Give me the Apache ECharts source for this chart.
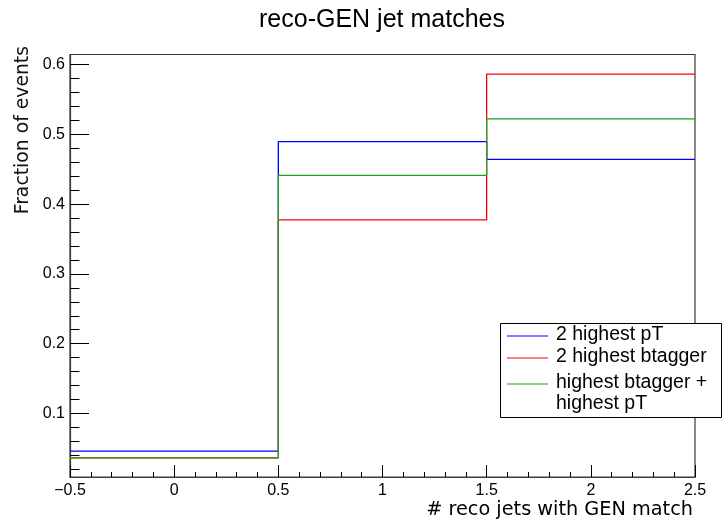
<!DOCTYPE html>
<html>
<head>
<meta charset="utf-8">
<script src="https://cdn.jsdelivr.net/npm/echarts@6/dist/echarts.min.js"></script>
<style>
  html, body { margin: 0; padding: 0; background: #fff; }
  #chart { width: 723px; height: 527px; }
</style>
</head>
<body>
<div id="chart"></div>
<script>
// Histogram bin edges (# reco jets with GEN match)
const binEdges = [-0.5, 0.5, 1.5, 2.5];

// Fraction of events per bin, one array per selection
const seriesNames = ['2 highest pT', '2 highest btagger', 'highest btagger +\nhighest pT'];
const fracHighestPt = [0.0458, 0.4897, 0.4643];
const fracHighestBtag = [0.0362, 0.3775, 0.5866];
const fracBtagPlusPt = [0.0362, 0.4413, 0.5223];
const seriesColors = ['#0000ff', '#ff0000', '#1fa01f'];

// Axis ticks
const yMajorTicks = [0.1, 0.2, 0.3, 0.4, 0.5, 0.6];
const yMinorTicks = [0.02, 0.04, 0.06, 0.08, 0.12, 0.14, 0.16, 0.18, 0.22, 0.24, 0.26, 0.28,
                     0.32, 0.34, 0.36, 0.38, 0.42, 0.44, 0.46, 0.48, 0.52, 0.54, 0.56, 0.58];
const yRange = [0.0088, 0.6146];

// Step-line points: each bin value starts at its lower edge, the last one is carried to the upper edge
function stepPoints(values) {
  const pts = values.map((v, i) => [binEdges[i], v]);
  pts.push([binEdges[binEdges.length - 1], values[values.length - 1]]);
  return pts;
}

const allValues = [fracHighestPt, fracHighestBtag, fracBtagPlusPt];

const chart = echarts.init(document.getElementById('chart'), null, { renderer: 'canvas' });

const frameColor = '#3a3a3a';
const labelFont = 'Liberation Sans, Arial, sans-serif';
const titleFont = 'DejaVu Sans, Verdana, sans-serif';

// Legend box drawn from the series names and colours
const legendBox = { x: 500, y: 323, w: 222, h: 94 };
const legendIconY = [336, 358, 384];
const legendGraphics = [{
  type: 'rect',
  shape: { x: legendBox.x + 0.5, y: legendBox.y + 0.5, width: legendBox.w - 1, height: legendBox.h },
  style: { fill: '#fff', stroke: '#000', lineWidth: 1 },
  z: 100
}];
seriesNames.forEach((name, i) => {
  legendGraphics.push({
    type: 'line',
    shape: { x1: 507, y1: legendIconY[i], x2: 548, y2: legendIconY[i] },
    style: { stroke: seriesColors[i], lineWidth: 1.2 },
    z: 101
  });
  legendGraphics.push({
    type: 'text',
    x: 556, y: legendIconY[i] - 1,
    style: {
      text: name, fill: '#000', font: '19.5px ' + labelFont,
      align: 'left', verticalAlign: 'top', lineHeight: 21,
      y: -11
    },
    z: 101
  });
});

const option = {
  animation: false,
  backgroundColor: '#fff',
  grid: {
    left: 70, right: 28, top: 54.5, bottom: 50,
    show: true, borderColor: frameColor, borderWidth: 1.2, backgroundColor: 'transparent'
  },
  xAxis: {
    type: 'value',
    min: binEdges[0], max: binEdges[binEdges.length - 1], interval: 0.5,
    axisLine: { show: true, onZero: false, lineStyle: { color: frameColor, width: 1.2 } },
    axisTick: { show: true, inside: true, length: 12, lineStyle: { color: '#000' } },
    minorTick: { show: true, splitNumber: 5, length: 5, lineStyle: { color: '#000' } },
    splitLine: { show: false },
    axisLabel: {
      show: true, margin: 6, color: '#000', fontSize: 16, fontFamily: labelFont,
      showMinLabel: true, showMaxLabel: true,
      formatter: v => (v < 0 ? '\u2212' + Math.abs(v) : String(v))
    }
  },
  yAxis: [{
    type: 'value',
    min: yRange[0], max: yRange[1], position: 'left',
    axisLine: { show: true, onZero: false, lineStyle: { color: frameColor, width: 1.2 } },
    axisTick: { show: true, inside: true, length: 19, customValues: yMajorTicks, lineStyle: { color: '#000' } },
    splitLine: { show: false },
    axisLabel: {
      show: true, margin: 5, color: '#000', fontSize: 16, fontFamily: labelFont,
      customValues: yMajorTicks,
      formatter: v => v.toFixed(1)
    }
  }, {
    type: 'value',
    min: yRange[0], max: yRange[1], position: 'left', offset: 0,
    axisLine: { show: false, onZero: false },
    axisTick: { show: true, inside: true, length: 9.5, customValues: yMinorTicks, lineStyle: { color: '#000' } },
    splitLine: { show: false },
    axisLabel: { show: false }
  }],
  series: allValues.map((vals, i) => ({
    name: seriesNames[i],
    type: 'line',
    step: 'end',
    yAxisIndex: 0,
    symbol: 'none',
    data: stepPoints(vals),
    lineStyle: { color: seriesColors[i], width: 1.3 },
    itemStyle: { color: seriesColors[i] },
    z: 2 + i
  })),
  graphic: [
    {
      type: 'text', x: 382, y: 20,
      style: { text: 'reco-GEN jet matches', fill: '#000', font: '25px ' + labelFont, align: 'center', verticalAlign: 'middle' }
    },
    {
      type: 'text', x: 693, y: 510,
      style: { text: '# reco jets with GEN match', fill: '#000', font: '19.3px ' + titleFont, align: 'right', verticalAlign: 'middle' }
    },
    {
      type: 'text', x: 23, y: 46, rotation: Math.PI / 2,
      style: { text: 'Fraction of events', fill: '#111', font: '18.8px ' + titleFont, align: 'right', verticalAlign: 'middle' }
    }
  ].concat(legendGraphics)
};

chart.setOption(option);
</script>
</body>
</html>
